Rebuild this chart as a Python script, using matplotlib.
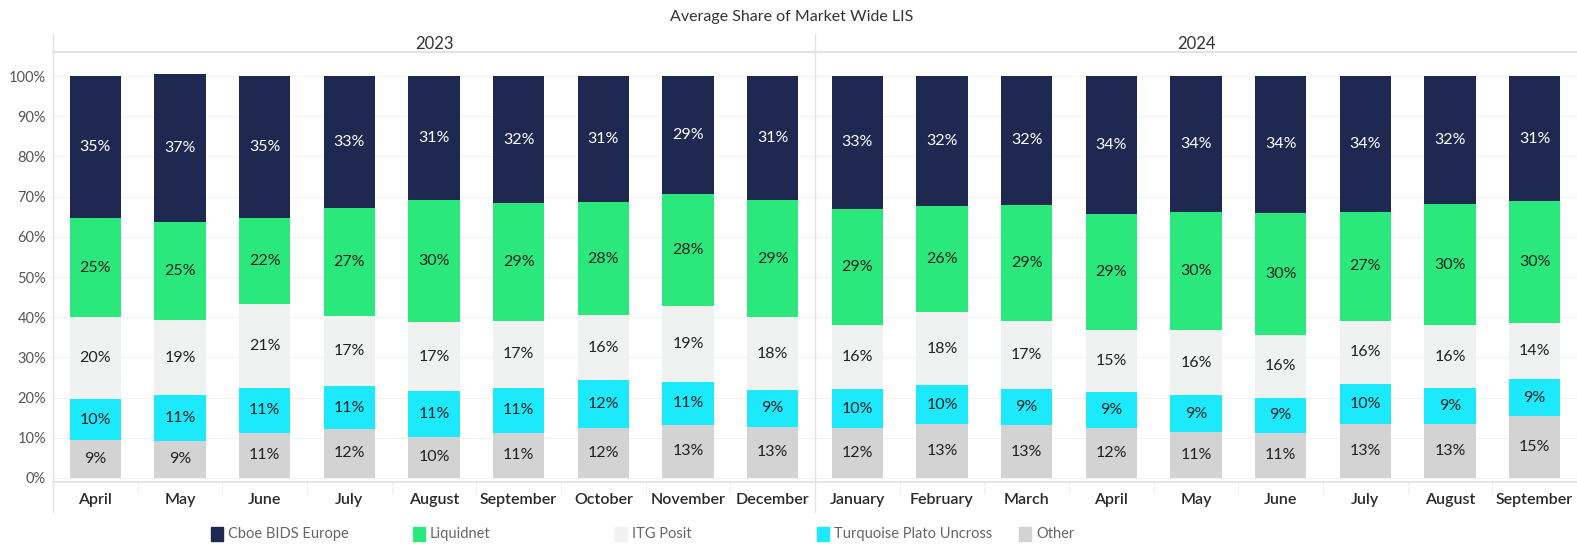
import matplotlib.pyplot as plt
from matplotlib.patches import Rectangle
from matplotlib.lines import Line2D

plt.rcParams['font.family'] = ['Lato', 'DejaVu Sans']

months = ['April', 'May', 'June', 'July', 'August', 'September', 'October', 'November', 'December',
          'January', 'February', 'March', 'April', 'May', 'June', 'July', 'August', 'September']
years = ['2023', '2024']
months_per_year = [9, 9]

# shares in %, bottom to top
other = [9.4, 9.2, 11.3, 12.2, 10.3, 11.2, 12.4, 13.2, 12.8,
         12.4, 13.4, 13.1, 12.4, 11.4, 11.3, 13.4, 13.4, 15.4]
turquoise = [10.25, 11.4, 11.2, 10.6, 11.3, 11.2, 12.0, 10.8, 9.0,
             9.7, 9.7, 9.0, 9.0, 9.2, 8.7, 10.0, 9.0, 9.2]
itg = [20.3, 18.6, 20.7, 17.4, 17.1, 16.7, 16.1, 18.8, 18.2,
       16.0, 18.2, 16.9, 15.3, 16.1, 15.6, 15.7, 15.6, 13.9]
liquidnet = [24.8, 24.6, 21.6, 27.0, 30.4, 29.3, 28.2, 27.8, 29.1,
             28.9, 26.3, 29.0, 28.9, 29.5, 30.4, 27.1, 30.1, 30.3]
cboe = [35.25, 36.7, 35.2, 32.8, 30.9, 31.6, 31.3, 29.4, 30.9,
        33.0, 32.4, 32.0, 34.4, 33.8, 34.0, 33.8, 31.9, 31.2]

series = [('Other', other, '#d3d3d3', '#222222'),
          ('Turquoise Plato Uncross', turquoise, '#1ce9fb', '#222222'),
          ('ITG Posit', itg, '#f0f1f1', '#222222'),
          ('Liquidnet', liquidnet, '#2be87d', '#222222'),
          ('Cboe BIDS Europe', cboe, '#1e2851', '#ffffff')]

W, H = 1577, 546
LEFT, RIGHT = 53, 1577
slot = (RIGHT - LEFT) / len(months)
fig = plt.figure(figsize=(W / 100, H / 100), dpi=100)
ax = fig.add_axes([LEFT / W, (H - 482) / H, (RIGHT - LEFT) / W, (482 - 54) / H])

x = list(range(len(months)))
bottom = [0.0] * len(months)
for name, vals, col, tcol in series:
    ax.bar(x, vals, bottom=bottom, width=0.61, color=col, linewidth=0, zorder=2)
    for i, v in enumerate(vals):
        ax.text(i, bottom[i] + v / 2, f'{round(v)}%', ha='center', va='center',
                fontsize=11.5, color=tcol, zorder=3)
    bottom = [b + v for b, v in zip(bottom, vals)]

ax.set_xlim(-0.5, len(months) - 0.5)
ax.set_ylim(-1, 105.5)
ax.set_yticks(range(0, 101, 10))
ax.set_yticklabels([f'{t}%' for t in range(0, 101, 10)], fontsize=10.5, color='#555555')
ax.yaxis.grid(True, color='#f2f2f2', linewidth=0.8, zorder=0)
ax.set_xticks(x)
ax.set_xticklabels(months, fontsize=11.5, color='#2a2a2a', fontweight='semibold')
ax.set_xticks([i + 0.5 for i in range(len(months) - 1)], minor=True)
ax.tick_params(axis='x', which='major', length=0, pad=8)
ax.tick_params(axis='x', which='minor', length=8, color='#ececec')
ax.tick_params(axis='y', length=0, pad=5)
for s in ['top', 'right', 'left']:
    ax.spines[s].set_visible(False)
ax.spines['bottom'].set_color('#e0e0e0')
ax.spines['bottom'].set_linewidth(1.2)
ax.axhline(0, color='#d8d8d8', linewidth=0.6, linestyle=':', zorder=1)

# panel frame: left line, year divider, header line
def fx(px):
    return px / W

def fy(py):
    return 1 - py / H

div = LEFT + months_per_year[0] * slot
fig.add_artist(Line2D([fx(LEFT), fx(LEFT)], [fy(34), fy(512)], color='#e3e3e3', lw=1))
fig.add_artist(Line2D([fx(div), fx(div)], [fy(34), fy(512)], color='#e3e3e3', lw=1))
fig.add_artist(Line2D([fx(LEFT), fx(RIGHT)], [fy(52), fy(52)], color='#e3e3e3', lw=1.5))

start = 0
for yr, n in zip(years, months_per_year):
    xc = LEFT + (start + n / 2) * slot
    fig.text(fx(xc), fy(44), yr, ha='center', va='center', fontsize=12, color='#333333')
    start += n

fig.text(fx(792), fy(17), 'Average Share of Market Wide LIS', ha='center', va='center',
         fontsize=11.5, color='#333333')

# legend
legend_order = [series[4], series[3], series[2], series[1], series[0]]
for i, (name, vals, col, tcol) in enumerate(legend_order):
    x0 = 211 + 202 * i
    fig.add_artist(Rectangle((fx(x0), fy(541)), 12 / W, 14 / H, color=col,
                             transform=fig.transFigure))
    fig.text(fx(x0 + 17), fy(534), name, ha='left', va='center', fontsize=10.5, color='#666666')

fig.savefig('out.png', dpi=100)
